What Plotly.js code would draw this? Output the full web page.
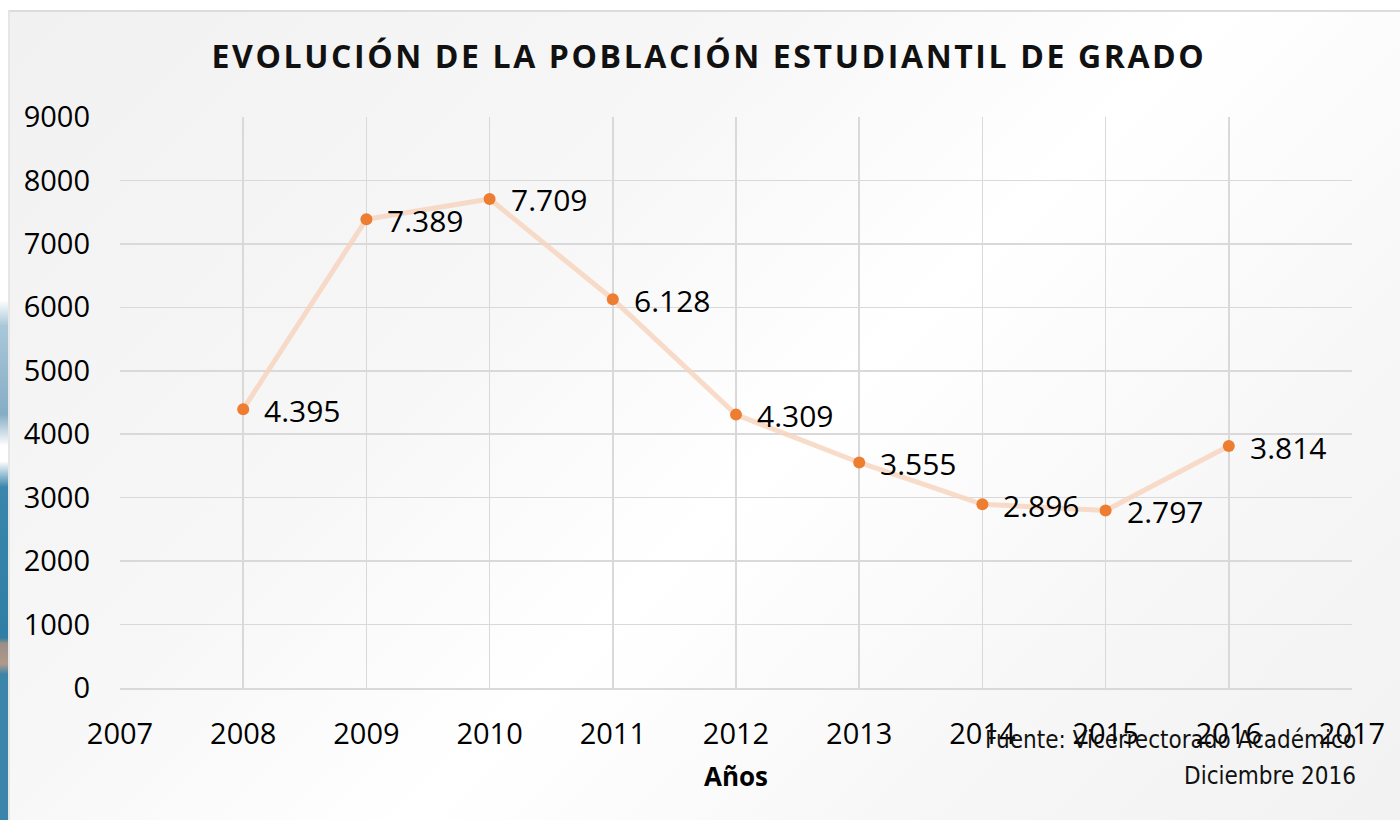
<!DOCTYPE html>
<html>
<head>
<meta charset="utf-8">
<script src="https://cdn.plot.ly/plotly-3.0.1.min.js"></script>
<style>
  html, body { margin: 0; padding: 0; width: 1400px; height: 820px; overflow: hidden; background: #ffffff; }
  #deco { position: absolute; left: 0; top: 300px; width: 8px; height: 520px;
          background: linear-gradient(to bottom, #ffffff 0%, #a9c7d9 5%, #86adc5 22%, #ffffff 28%, #ffffff 31%, #3a86ad 36%, #2f7ea6 65%, #9a8f86 66%, #b09a8a 70%, #3b84aa 72%, #3b84aa 100%); }
  #panel { position: absolute; left: 8px; top: 10px; width: 1392px; height: 810px;
           border-top: 2px solid #dcdcdc; border-left: 2px solid #e6e6e6; box-sizing: border-box;
           background: linear-gradient(135deg, #f1f1f1 0%, #f7f7f7 35%, #ffffff 55%, #f6f6f6 80%, #f2f2f2 100%); }
  #chart { position: absolute; left: 0; top: 0; width: 1400px; height: 820px; }
  #chart .gtitle { letter-spacing: 2.6px; }
</style>
</head>
<body>
<div id="deco"></div>
<div id="panel"></div>
<div id="chart"></div>
<script>
const years = [2008, 2009, 2010, 2011, 2012, 2013, 2014, 2015, 2016];
const estudiantes = [4395, 7389, 7709, 6128, 4309, 3555, 2896, 2797, 3814];
const etiquetas = ['4.395', '7.389', '7.709', '6.128', '4.309', '3.555', '2.896', '2.797', '3.814'];
const xTicks = [2007, 2008, 2009, 2010, 2011, 2012, 2013, 2014, 2015, 2016, 2017];
const yTicks = [0, 1000, 2000, 3000, 4000, 5000, 6000, 7000, 8000, 9000];
const tituloTexto = 'EVOLUCIÓN DE LA POBLACIÓN ESTUDIANTIL DE GRADO';
const ejeXTexto = 'Años';
const fuenteLineas = ['Fuente: Vicerrectorado Académico', 'Diciembre 2016'];

const font = '"Open Sans", "Noto Sans", sans-serif';
const condensed = '"Liberation Sans Narrow", "DejaVu Sans Condensed", sans-serif';

const trace = {
  x: years, y: estudiantes,
  type: 'scatter', mode: 'lines+markers',
  line: { color: 'rgba(246,211,187,0.8)', width: 5 },
  marker: { color: '#ED7D31', size: 12 },
  cliponaxis: false,
  hoverinfo: 'x+y'
};

const plotL = 120, plotR = 48, plotT = 117, plotB = 132;
const plotW = 1400 - plotL - plotR, plotH = 820 - plotT - plotB;

const labelAnnotations = years.map((yr, i) => ({
  x: yr, y: estudiantes[i], xref: 'x', yref: 'y',
  text: etiquetas[i], showarrow: false,
  xanchor: 'left', yanchor: 'middle', xshift: 19, yshift: -1,
  font: { family: font, size: 30, color: '#000000' }
}));

const fuenteAnnotations = [
  { text: fuenteLineas[0], xref: 'paper', yref: 'paper',
    x: (1358 - plotL) / plotW, y: (plotT + plotH - 740) / plotH,
    xanchor: 'right', yanchor: 'middle', showarrow: false,
    font: { family: condensed, size: 24, color: '#111111' } },
  { text: fuenteLineas[1], xref: 'paper', yref: 'paper',
    x: (1358 - plotL) / plotW, y: (plotT + plotH - 776) / plotH,
    xanchor: 'right', yanchor: 'middle', showarrow: false,
    font: { family: condensed, size: 24, color: '#111111' } }
];

const layout = {
  width: 1400, height: 820,
  paper_bgcolor: 'rgba(0,0,0,0)',
  plot_bgcolor: 'rgba(0,0,0,0)',
  margin: { l: plotL, r: plotR, t: plotT, b: plotB },
  showlegend: false,
  title: {
    text: '<b>' + tituloTexto + '</b>',
    font: { family: font, size: 32, color: '#111111' },
    x: 709 / 1400, xanchor: 'center', xref: 'container',
    y: 1 - 57 / 820, yanchor: 'middle', yref: 'container'
  },
  xaxis: {
    range: [2007, 2017], tickvals: xTicks, ticktext: xTicks.map(String),
    showgrid: true, gridcolor: '#d9d9d9', gridwidth: 1.5,
    zeroline: false, showline: true, linecolor: '#d9d9d9', linewidth: 1.5,
    ticks: '', ticklabelstandoff: 20,
    tickfont: { family: font, size: 29, color: '#000000' },
    title: { text: '<b>' + ejeXTexto + '</b>', font: { family: font, size: 26, color: '#000000' }, standoff: 16 }
  },
  yaxis: {
    range: [0, 9000], tickvals: yTicks, ticktext: yTicks.map(String),
    showgrid: true, gridcolor: '#d9d9d9', gridwidth: 1.5,
    zeroline: false, showline: false,
    ticks: '', ticklabelstandoff: 29,
    tickfont: { family: font, size: 29, color: '#000000' }
  },
  annotations: labelAnnotations.concat(fuenteAnnotations)
};

Plotly.newPlot('chart', [trace], layout, { displayModeBar: false, staticPlot: true });
</script>
</body>
</html>
